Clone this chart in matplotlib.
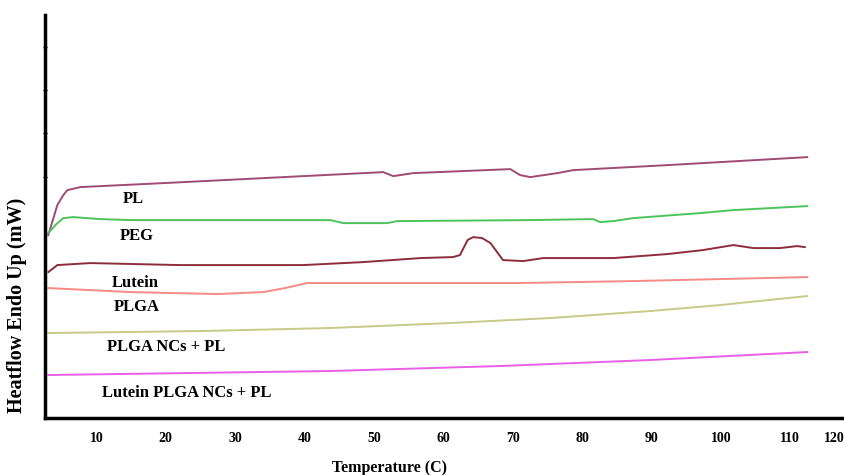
import matplotlib
matplotlib.use("Agg")
import matplotlib.pyplot as plt

# DSC traces (temperature in C, heat flow in arbitrary mW offset)
pl_t = [3.08, 4.38, 5.24, 5.82, 7.69, 10.58, 19.65, 34.06, 51.35, 52.79, 55.67, 69.65, 71.09, 72.53, 76.42, 78.73, 92.27, 112.45]
pl_y = [18.3, 21.3, 22.3, 22.8, 23.1, 23.2, 23.5, 24.0, 24.6, 24.2, 24.5, 24.9, 24.3, 24.1, 24.5, 24.8, 25.3, 26.1]

peg_t = [3.08, 4.24, 5.24, 6.66, 10.58, 14.9, 43.72, 45.6, 51.9, 53.4, 72.5, 81.6, 82.6, 84.5, 87.4, 97.0, 101.8, 112.45]
peg_y = [18.5, 19.4, 20.0, 20.1, 19.9, 19.8, 19.8, 19.5, 19.5, 19.7, 19.8, 19.9, 19.6, 19.7, 20.0, 20.5, 20.8, 21.2]

lutein_t = [3.08, 4.38, 9.14, 22.1, 39.8, 48.5, 56.7, 61.4, 62.4, 63.5, 64.3, 65.6, 66.8, 68.6, 71.5, 74.4,
            84.5, 92.3, 97.4, 101.8, 104.7, 108.5, 111.0, 112.1]
lutein_y = [14.6, 15.3, 15.5, 15.3, 15.3, 15.6, 16.0, 16.1, 16.3, 17.8, 18.1, 18.0, 17.5, 15.8, 15.7, 16.0,
            16.0, 16.4, 16.8, 17.3, 17.0, 17.0, 17.2, 17.1]

plga_t = [3.08, 14.9, 27.4, 34.1, 37.2, 40.4, 48.5, 70.7, 87.4, 112.45]
plga_y = [13.0, 12.6, 12.4, 12.6, 13.0, 13.5, 13.5, 13.5, 13.7, 14.1]

ncs_t = [3.08, 25.0, 43.7, 61.0, 75.4, 89.8, 99.9, 112.45]
ncs_y = [8.5, 8.7, 9.0, 9.5, 10.0, 10.7, 11.3, 12.2]

lut_ncs_t = [3.08, 43.7, 68.2, 89.8, 112.45]
lut_ncs_y = [4.3, 4.7, 5.2, 5.8, 6.6]

names = ["PL", "PEG", "Lutein", "PLGA", "PLGA NCs + PL", "Lutein PLGA NCs + PL"]
colors = ["#a04a74", "#4cc45c", "#8e2c3c", "#f58a86", "#c9c98a", "#ea5ee8"]
label_x = [15.3, 15.8, 15.6, 15.8, 20.1, 23.0]
label_y = [21.9, 18.2, 13.5, 11.1, 7.1, 2.5]

tick_pos = [10, 20, 30, 40, 50, 60, 70, 80, 90, 100, 110, 116.3]
tick_lbl = ["10", "20", "30", "40", "50", "60", "70", "80", "90", "100", "110", "120"]

plt.rcParams["font.family"] = ["Liberation Serif", "DejaVu Serif"]
plt.rcParams["font.weight"] = "bold"

fig = plt.figure(figsize=(8.44, 4.75), dpi=100)
ax = fig.add_axes([0.0533, 0.12, 0.9455, 0.848])

series = [(pl_t, pl_y), (peg_t, peg_y), (lutein_t, lutein_y),
          (plga_t, plga_y), (ncs_t, ncs_y), (lut_ncs_t, lut_ncs_y)]
for (t, y), c in zip(series, colors):
    ax.plot(t, y, color=c, lw=1.4)

for name, lx, ly in zip(names, label_x, label_y):
    ax.text(lx, ly, name, ha="center", va="center", fontsize=12, fontweight="bold")

ax.set_xlim(2.6, 117.6)
ax.set_ylim(0, 40.3)
ax.set_xticks(tick_pos)
ax.set_xticklabels(tick_lbl, fontsize=10, fontweight="bold")
ax.set_yticks([24.1, 28.5, 32.8, 37.1])
ax.set_yticklabels([])
ax.tick_params(axis="x", length=0, pad=10)
ax.tick_params(axis="y", length=3, direction="inout", width=1)

for s in ["top", "right"]:
    ax.spines[s].set_visible(False)
for s in ["left", "bottom"]:
    ax.spines[s].set_linewidth(2.5)

ax.set_xlabel("Temperature (C)", fontsize=11.5, fontweight="bold")
ax.xaxis.set_label_coords(0.432, -0.104)
ax.set_ylabel("Heatflow Endo Up (mW)", fontsize=14.5, fontweight="bold")
ax.yaxis.set_label_coords(-0.023, 0.28)

fig.savefig("out.png", dpi=100)
